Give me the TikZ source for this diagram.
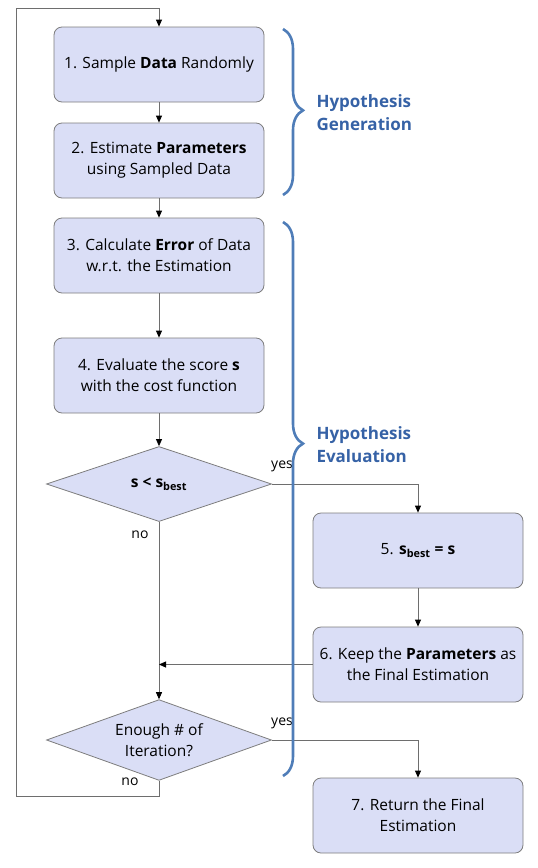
\documentclass[tikz,border=0pt]{standalone}
\usepackage{fontspec}
\setmainfont{Open Sans}
\usepackage{tikz}
\usetikzlibrary{shapes.geometric,arrows.meta,decorations.pathreplacing}
\definecolor{boxfill}{RGB}{218,222,246}
\definecolor{boxline}{RGB}{125,125,125}
\definecolor{linecol}{RGB}{110,110,110}
\definecolor{bracecol}{RGB}{79,125,184}
\definecolor{headcol}{RGB}{54,98,166}
\tikzset{
  procbox/.style={ draw=boxline, fill=boxfill, rounded corners=8pt, minimum width=210pt, minimum height=75pt, align=center, font=\fontsize{15.5}{21}\selectfont, line width=0.8pt }
}
\tikzset{
  decis/.style={ draw=boxline, fill=boxfill, diamond, minimum width=225pt, minimum height=75pt, inner sep=-10pt, align=center, font=\fontsize{15.5}{21}\selectfont, line width=0.8pt }
}
\tikzset{
  flowarr/.style={ draw=linecol, line width=0.8pt, -{Triangle[length=7pt,width=6pt,color=black]} }
}
\tikzset{
  bracebl/.style={ draw=bracecol, line width=2.6pt, decorate, decoration={brace, amplitude=20pt, #1} }
}
\tikzset{
  headtxt/.style={ text=headcol, align=left, anchor=west, font=\fontsize{17}{23}\bfseries\selectfont }
}
\tikzset{
  yesno/.style={ font=\fontsize{14}{16}\selectfont }
}

\begin{document}
\begin{tikzpicture}[x=1pt, y=-1pt]
      \useasboundingbox (0,0) rectangle (538,868);

      \node[procbox] (s1) at (159, 64.5) {1. Sample \textbf{Data} Randomly};
      \node[procbox] (s2) at (159, 160.5) {2. Estimate \textbf{Parameters}\\using Sampled Data};
      \node[procbox] (s3) at (159, 255.5) {3. Calculate \textbf{Error} of Data\\w.r.t. the Estimation};
      \node[procbox] (s4) at (159, 375.5) {4. Evaluate the score \textbf{s}\\with the cost function};
      \node[decis] (cmp) at (159, 484) {\textbf{s < s\textsubscript{best}}};
      \node[procbox] (s5) at (418, 550.5) {5. \textbf{s\textsubscript{best} = s}};
      \node[procbox] (s6) at (418, 664.5) {6. Keep the \textbf{Parameters} as\\the Final Estimation};
      \node[decis] (iter) at (159, 740) {Enough \# of\\Iteration?};
      \node[procbox] (s7) at (418, 815.5) {7. Return the Final\\Estimation};

      \node[yesno] (yes1) at (282, 466) {yes};
      \node[yesno] (no1) at (140, 535) {no};
      \node[yesno] (yes2) at (282, 723) {yes};
      \node[yesno] (no2) at (130, 782) {no};

      \coordinate (loopbl) at (16, 796);
      \coordinate (looptop) at (159, 8);
      \coordinate (merge) at (cmp.south |- s6.west);

      \draw[flowarr] (s1) edge (s2);
      \draw[flowarr] (s2) edge (s3);
      \draw[flowarr] (s3) edge (s4);
      \draw[flowarr] (s4) edge (cmp);
      \draw[flowarr] (cmp.south) -- (iter.north);
      \draw[flowarr] (cmp.east) -| (s5.north);
      \draw[flowarr] (s5) edge (s6);
      \draw[flowarr] (s6.west) -- (merge);
      \draw[flowarr] (iter.east) -| (s7.north);
      \draw[flowarr] (iter.south) |- (loopbl) |- (looptop) -- (s1.north);

      % braces on the right
      \draw[bracebl={aspect=0.49}] (283, 29) -- (283, 195);
      \draw[bracebl={aspect=0.40}] (283, 222) -- (283, 776);
      \node[headtxt] (gen) at (313, 113) {Hypothesis\\Generation};
      \node[headtxt] (eva) at (313, 445) {Hypothesis\\Evaluation};
    \end{tikzpicture}
\end{document}
